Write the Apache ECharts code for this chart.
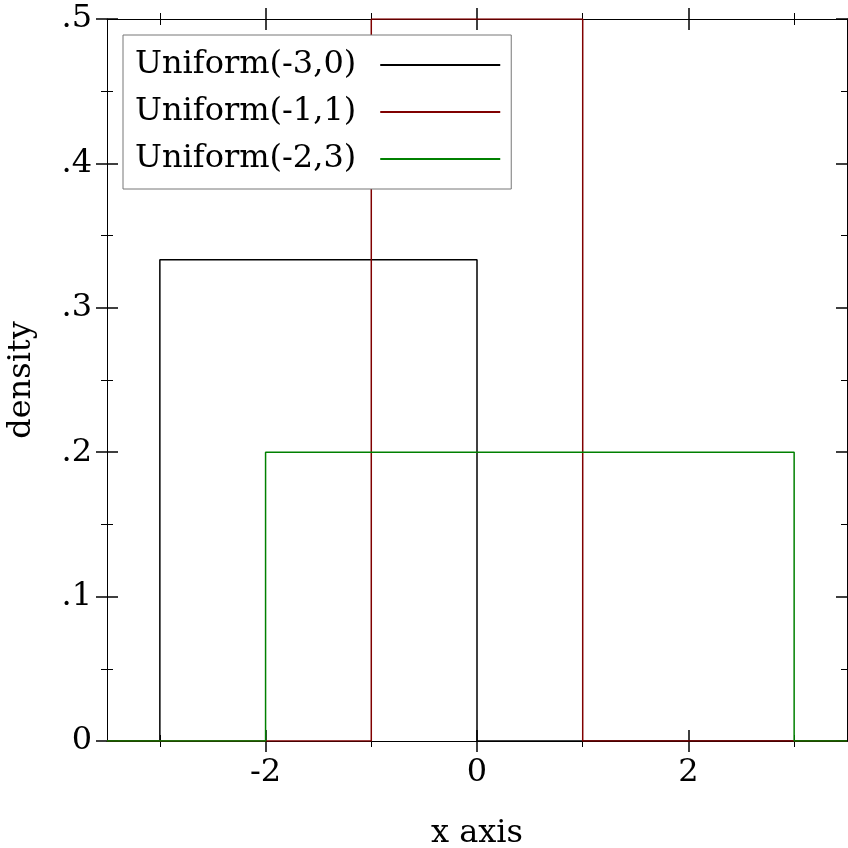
<!DOCTYPE html>
<html>
<head>
<meta charset="utf-8">
<script src="https://cdn.jsdelivr.net/npm/echarts@6/dist/echarts.min.js"></script>
<style>
  html, body { margin: 0; padding: 0; background: #fff; }
  #chart { width: 848px; height: 848px; }
</style>
</head>
<body>
<div id="chart"></div>
<script>
// series names and colours
var seriesNames = ['Uniform(-3,0)', 'Uniform(-1,1)', 'Uniform(-2,3)'];
var seriesColors = ['#000000', '#800000', '#008000'];

// step outlines of the three densities (x, y)
var xA = [-3.5, -3, -3, 0, 0, 3.5];
var yA = [0, 0, 0.3333, 0.3333, 0, 0];
var xB = [-3.5, -1, -1, 1, 1, 3.5];
var yB = [0, 0, 0.5, 0.5, 0, 0];
var xC = [-3.5, -2, -2, 3, 3, 3.5];
var yC = [0, 0, 0.2, 0.2, 0, 0];

// ticks
var xMajor = [-2, 0, 2];
var xMinor = [-3, -1, 1, 3];
var yMajor = [0, 0.1, 0.2, 0.3, 0.4, 0.5];
var yMajorLabels = ['0', '.1', '.2', '.3', '.4', '.5'];
var yMinor = [0.05, 0.15, 0.25, 0.35, 0.45];

var FONT = 'DejaVu Serif';
var FS = 32;

function pairs(xs, ys) {
  return xs.map(function (x, i) { return [x, ys[i]]; });
}

// axis that only draws straddling ticks (shifted into the grid, ticks pointing out)
function tickAxis(kind, pos, values, half, w) {
  return {
    type: 'value',
    position: pos,
    min: kind === 'x' ? -3.5 : 0,
    max: kind === 'x' ? 3.5 : 0.5,
    offset: -half,
    axisLine: { show: false, onZero: false },
    axisLabel: { show: false },
    splitLine: { show: false },
    axisTick: {
      show: true,
      inside: false,
      length: half * 2,
      customValues: values,
      lineStyle: { color: '#000', width: w }
    }
  };
}

function mainAxis(kind, pos, withLabels) {
  var ax = {
    type: 'value',
    position: pos,
    min: kind === 'x' ? -3.5 : 0,
    max: kind === 'x' ? 3.5 : 0.5,
    axisLine: { show: true, onZero: false, lineStyle: { color: '#000', width: 1 } },
    axisTick: { show: false },
    splitLine: { show: false },
    axisLabel: { show: false }
  };
  if (withLabels) {
    ax.axisLabel = {
      show: true,
      customValues: kind === 'x' ? xMajor : yMajor,
      fontFamily: FONT,
      fontSize: FS,
      color: '#000',
      margin: kind === 'x' ? 16 : 15,
      formatter: function (v) {
        if (kind === 'x') return String(v);
        var i = yMajor.findIndex(function (t) { return Math.abs(t - v) < 1e-9; });
        return i >= 0 ? yMajorLabels[i] : '';
      }
    };
    ax.name = kind === 'x' ? 'x axis' : 'density';
    ax.nameLocation = 'middle';
    ax.nameGap = kind === 'x' ? 77 : 69;
    ax.nameTextStyle = { fontFamily: FONT, fontSize: FS, color: '#000' };
  }
  return ax;
}

var xAxes = [
  mainAxis('x', 'bottom', true),
  tickAxis('x', 'bottom', xMajor, 11, 1.5),
  tickAxis('x', 'bottom', xMinor, 6, 1),
  mainAxis('x', 'top', false),
  tickAxis('x', 'top', xMajor, 11, 1.5),
  tickAxis('x', 'top', xMinor, 6, 1)
];
var yAxes = [
  mainAxis('y', 'left', true),
  tickAxis('y', 'left', yMajor, 11, 1.5),
  tickAxis('y', 'left', yMinor, 6, 1),
  mainAxis('y', 'right', false),
  tickAxis('y', 'right', yMajor, 11, 1.5),
  tickAxis('y', 'right', yMinor, 6, 1)
];

var chart = echarts.init(document.getElementById('chart'), null, { renderer: 'canvas' });

var option = {
  animation: false,
  backgroundColor: '#fff',
  grid: { left: 107, right: 1, top: 19, bottom: 107, containLabel: false, outerBoundsMode: 'none' },
  xAxis: xAxes,
  yAxis: yAxes,
  legend: {
    orient: 'vertical',
    left: 123,
    top: 35,
    align: 'right',
    backgroundColor: '#fff',
    borderColor: '#777',
    borderWidth: 1,
    borderRadius: 0,
    padding: [14, 10, 14, 12],
    itemWidth: 120,
    itemHeight: 26,
    itemGap: 15,
    z: 10,
    itemStyle: { opacity: 0 },
    textStyle: { fontFamily: FONT, fontSize: FS, color: '#000', padding: [0, 19, 0, 0] },
    data: seriesNames
  },
  series: [
    { name: seriesNames[0], data: pairs(xA, yA) },
    { name: seriesNames[1], data: pairs(xB, yB) },
    { name: seriesNames[2], data: pairs(xC, yC) }
  ].map(function (s, i) {
    return {
      name: s.name,
      type: 'line',
      xAxisIndex: 0,
      yAxisIndex: 0,
      symbol: 'none',
      data: s.data,
      color: seriesColors[i],
      lineStyle: { color: seriesColors[i], width: 1.5 },
      z: 2 + i
    };
  })
};

chart.setOption(option);
</script>
</body>
</html>
